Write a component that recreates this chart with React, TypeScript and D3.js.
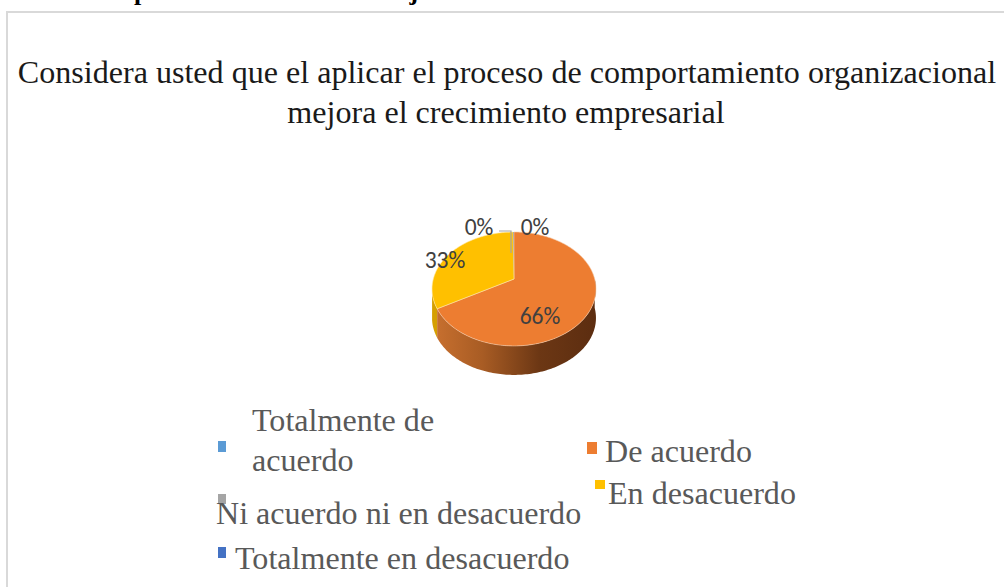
import React from "react";
import * as d3 from "d3";

const W = 1004, H = 587;
const headerText = "Evaluado por valoración a la trabajador";
const titleLines = ["Considera usted que el aplicar el proceso de comportamiento organizacional", "mejora el crecimiento empresarial"];
const categories = ["Totalmente de acuerdo", "De acuerdo", "En desacuerdo", "Ni acuerdo ni en desacuerdo", "Totalmente en desacuerdo"];
const values = [0, 66.8, 33.0, 0.2, 0];
const percentLabels = ["0%", "66%", "33%", "0%", "0%"];
const colors = ["#5b9bd5", "#ed7d31", "#ffc000", "#a5a5a5", "#4472c4"];

const cx = 514, cy = 279, rx = 80.7, ry = 55.2, k = -0.175, depth = 29;

function project(angle: number, r = 1): [number, number] {
  const x = r * Math.sin(angle), y = -r * Math.cos(angle);
  const w = 1 + k * y;
  return [cx + (rx * x) / w, cy + (ry * y) / w];
}
const line = d3.line();
function arcPoints(a0: number, a1: number) {
  const n = Math.max(2, Math.ceil(Math.abs(a1 - a0) / 0.02));
  return d3.range(n + 1).map((i) => project(a0 + ((a1 - a0) * i) / n));
}
function wedge(a0: number, a1: number) {
  return line([[cx, cy], ...arcPoints(a0, a1)]) + "Z";
}
function side(a0: number, a1: number) {
  const top = arcPoints(a0, a1);
  const bot = top.slice().reverse().map(([x, y]) => [x, y + depth] as [number, number]);
  return line([...top, ...bot]) + "Z";
}

export default function App() {
  const arcs = d3.pie<number>().sort(null)(values);
  const orange = arcs[1], yellow = arcs[2], gray = arcs[3];
  const boundary = orange.endAngle;
  const leftLimit = (2 * Math.PI * 258) / 360;
  const font = "'Liberation Serif', 'Times New Roman', serif";
  const calibri = "'Carlito', 'Open Sans', 'Noto Sans', sans-serif";
  const legendFill = "#595959";
  const legendItems = [
    { i: 0, sx: 218, sy: 441, sw: 8, sh: 11 },
    { i: 1, sx: 587, sy: 442, sw: 10, sh: 12 },
    { i: 2, sx: 595, sy: 480, sw: 10, sh: 9 },
    { i: 3, sx: 218, sy: 494, sw: 8, sh: 10 },
    { i: 4, sx: 218, sy: 547, sw: 8, sh: 11 },
  ];
  return (
    <svg width={W} height={H} viewBox={`0 0 ${W} ${H}`} style={{ position: "absolute", left: 0, top: 0, background: "#fff" }}>
      <defs>
        <linearGradient id="sideGrad" gradientUnits="userSpaceOnUse" x1={434} x2={596} y1={0} y2={0}>
          <stop offset="0" stopColor="#c8702f" />
          <stop offset="0.3" stopColor="#a85c24" />
          <stop offset="0.65" stopColor="#6c3714" />
          <stop offset="1" stopColor="#5c2d10" />
        </linearGradient>
      </defs>
      <text x={22} y={0} fontFamily={font} fontSize={26} fontWeight="bold" fill="#000">{headerText}</text>
      <rect x={7} y={12} width={1010} height={600} fill="#fff" stroke="#d9d9d9" strokeWidth={2} />
      <g fontFamily={font} fontSize={32.1} fill="#1a1a1a" textAnchor="middle">
        <text x={507} y={83}>{titleLines[0]}</text>
        <text x={506} y={123}>{titleLines[1]}</text>
      </g>

      <path d={side(boundary, leftLimit)} fill="#d59f00" />
      <path d={side(Math.PI / 2, boundary)} fill="url(#sideGrad)" />

      <path d={wedge(orange.startAngle, orange.endAngle)} fill={colors[1]} stroke="#f3c9a8" strokeWidth={0.6} />
      <path d={wedge(yellow.startAngle, yellow.endAngle)} fill={colors[2]} stroke="#ffe9a8" strokeWidth={0.6} />
      <path d={wedge(gray.startAngle, gray.endAngle)} fill={colors[3]} />

      <path d="M499,231 H511 V253" fill="none" stroke="#a6a6a6" strokeWidth={1.2} />

      <g fontFamily={calibri} fontSize={23.5} fill="#404040" textAnchor="middle">
        <text x={479} y={235}>{percentLabels[3]}</text>
        <text x={535} y={235}>{percentLabels[4]}</text>
        <text x={445} y={268}>{percentLabels[2]}</text>
        <text x={540} y={324}>{percentLabels[1]}</text>
      </g>

      {legendItems.map((d) => (
        <rect key={d.i} x={d.sx} y={d.sy} width={d.sw} height={d.sh} fill={colors[d.i]} />
      ))}
      <g fontFamily={font} fontSize={32.1} fill={legendFill}>
        <text x={252} y={431}>Totalmente de</text>
        <text x={252} y={471}>acuerdo</text>
        <text x={605} y={462}>{categories[1]}</text>
        <text x={608} y={504}>{categories[2]}</text>
        <text x={216} y={524}>{categories[3]}</text>
        <text x={235} y={569}>{categories[4]}</text>
      </g>
    </svg>
  );
}
